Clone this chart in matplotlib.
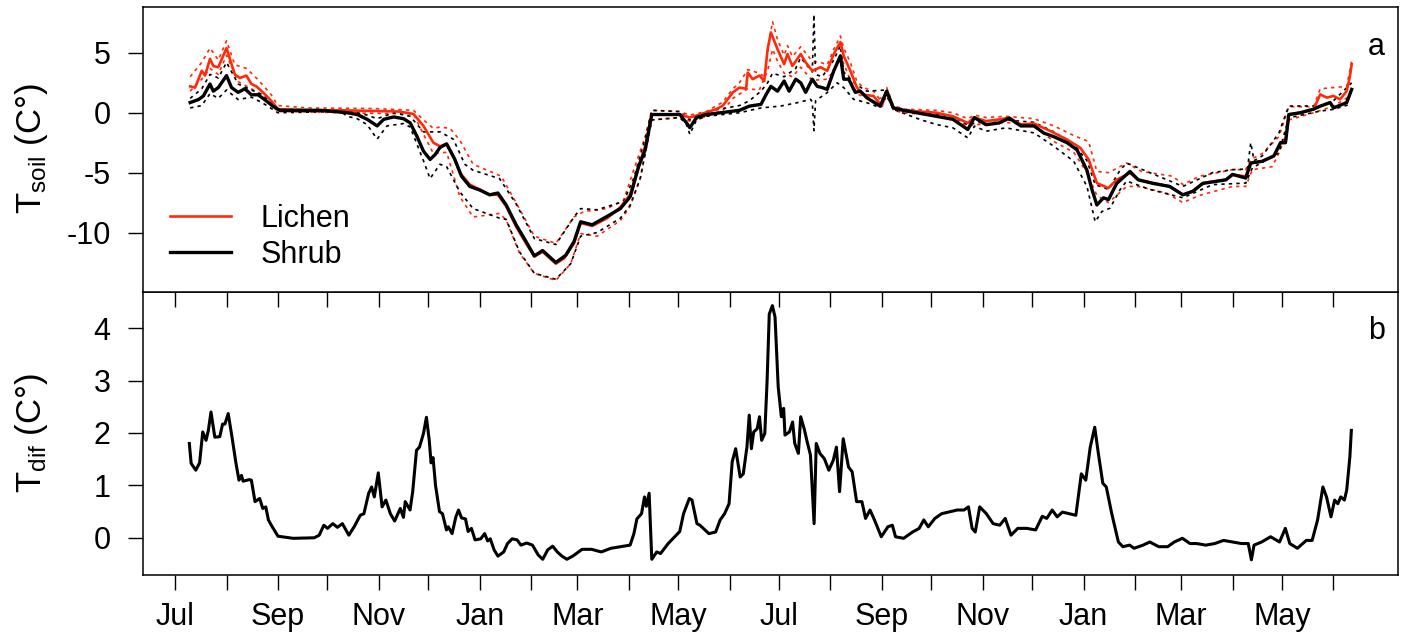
import datetime
import matplotlib
matplotlib.use('Agg')
import matplotlib.pyplot as plt

plt.rcParams['font.family'] = 'Liberation Sans'
plt.rcParams['mathtext.fontset'] = 'custom'
plt.rcParams['mathtext.rm'] = 'Liberation Sans'
plt.rcParams['axes.unicode_minus'] = False

# x values are days since 1 Jul 2013
START = datetime.date(2013, 7, 1)

lichen_day = [9, 12, 16, 18, 21, 23, 26, 31, 33, 36, 39, 43, 46, 49, 53, 58, 62, 80, 100, 120,
              135, 144, 150, 156, 160, 164, 168, 172, 178, 184, 190, 195, 200, 206, 212, 217, 222,
              230, 235, 241, 245, 252, 261, 269, 275, 279, 284, 288, 295, 305, 311, 317, 327, 331,
              337, 341, 345, 346, 349, 353, 356, 358, 360, 364, 368, 370, 373, 378, 381, 385, 390,
              394, 398, 402, 404, 408, 412, 416, 422, 427, 430, 434, 440, 460, 470, 479, 483, 490,
              498, 504, 511, 519, 529, 539, 547, 552, 557, 564, 569, 577, 582, 591, 601, 609, 615,
              621, 635, 639, 647, 650, 657, 664, 668, 671, 673, 680, 688, 692, 696, 700, 704, 708,
              710, 711]
lichen_t = [2.2, 2.1, 3.5, 3.1, 4.5, 3.9, 3.8, 5.4, 4.5, 3.2, 2.9, 3.1, 2.4, 2.2, 1.7, 1.0, 0.3,
            0.2, 0.2, 0.15, 0.1, -0.1, -1.1, -2.5, -2.8, -2.6, -3.6, -5.0, -6.0, -6.4, -6.85, -6.85,
            -7.8, -9.5, -10.9, -12.0, -11.6, -12.6, -12.15, -10.9, -9.2, -9.45, -8.8, -7.9, -6.8,
            -5.0, -2.8, -0.15, -0.15, -0.15, -0.4, -0.15, 0.3, 0.6, 1.7, 2.1, 2.0, 3.35, 2.8, 3.1,
            2.65, 5.3, 6.7, 5.3, 4.05, 4.9, 3.9, 4.9, 4.2, 3.5, 3.8, 3.5, 4.9, 5.9, 4.75, 3.5, 2.1,
            1.5, 1.4, 0.55, 1.8, 0.4, 0.2, 0.0, -0.3, -0.85, -0.4, -0.7, -0.56, -0.42, -0.98, -0.9,
            -1.54, -2.24, -2.93, -3.9, -5.87, -6.29, -5.59, -5.03, -5.59, -5.87, -6.15, -6.85,
            -6.57, -5.87, -5.59, -5.17, -5.31, -4.19, -4.05, -3.63, -2.51, -2.51, -0.14, 0.0, 0.28,
            1.53, 1.26, 1.4, 1.12, 1.81, 3.07, 4.05]

shrub_day = [9, 14, 17, 21, 23, 26, 31, 34, 38, 42, 46, 50, 54, 59, 63, 88, 104, 110, 116, 122,
             126, 132, 138, 142, 146, 150, 154, 157, 160, 164, 169, 173, 178, 184, 190, 195, 200,
             206, 212, 217, 222, 230, 236, 241, 245, 252, 261, 269, 275, 280, 284, 288, 305, 309,
             311, 315, 321, 341, 347, 354, 357, 360, 364, 368, 371, 375, 378, 381, 385, 388, 391,
             394, 398, 402, 404, 407, 411, 414, 418, 426, 430, 434, 440, 460, 470, 479, 483, 490,
             498, 504, 511, 519, 525, 531, 539, 545, 551, 554, 557, 561, 564, 569, 577, 582, 591,
             601, 609, 615, 621, 635, 639, 647, 650, 657, 664, 668, 671, 673, 680, 688, 692, 698,
             700, 708, 711]
shrub_t = [0.85, 1.1, 1.4, 2.4, 1.8, 2.1, 3.1, 2.1, 1.7, 2.0, 1.5, 1.5, 1.1, 0.55, 0.2, 0.2, 0.0,
           -0.15, -0.55, -1.1, -0.55, -0.35, -0.5, -0.85, -1.95, -3.2, -3.9, -3.5, -2.9, -2.6, -3.9,
           -5.3, -6.15, -6.45, -6.85, -6.7, -7.7, -9.35, -10.75, -11.95, -11.5, -12.5, -11.9,
           -10.75, -9.1, -9.35, -8.65, -8.0, -7.0, -4.5, -3.1, -0.15, -0.15, -0.85, -1.25, -0.4,
           -0.15, 0.2, 0.55, 0.7, 1.5, 2.2, 1.8, 2.65, 1.8, 2.8, 2.5, 1.7, 2.8, 2.2, 2.1, 1.95, 3.5,
           4.75, 2.8, 2.8, 1.7, 1.8, 1.25, 0.55, 1.8, 0.4, 0.2, -0.3, -0.55, -1.4, -0.4, -1.0,
           -0.85, -0.45, -1.1, -1.1, -1.7, -2.0, -2.5, -3.1, -4.8, -6.4, -7.7, -7.1, -7.25, -5.9,
           -4.9, -5.6, -5.9, -6.15, -6.85, -6.55, -5.9, -5.6, -5.15, -5.45, -4.2, -4.05, -3.6,
           -2.5, -2.5, -0.15, 0.0, 0.3, 0.55, 0.85, 0.4, 0.85, 1.95]

# dotted envelopes
lichen_hi_day = [9, 16, 21, 26, 31, 36, 43, 49, 53, 58, 62, 80, 120, 144, 150, 156, 160, 166, 172,
                 180, 192, 197, 206, 217, 230, 241, 247, 261, 271, 277, 284, 288, 305, 311, 321,
                 331, 337, 341, 346, 353, 356, 359, 361, 364, 368, 370, 373, 378, 385, 390, 394,
                 398, 402, 404, 408, 412, 416, 422, 427, 430, 434, 440, 460, 470, 479, 483, 490,
                 502, 519, 531, 543, 552, 557, 564, 575, 584, 603, 609, 619, 639, 647, 650, 657,
                 667, 673, 688, 692, 708, 711]
lichen_hi = [3.0, 4.2, 5.4, 4.4, 6.0, 4.0, 3.7, 2.9, 2.3, 1.5, 0.6, 0.4, 0.35, 0.2, -0.6, -1.3,
             -1.2, -1.3, -2.3, -4.3, -5.0, -5.3, -7.5, -10.3, -10.9, -8.7, -8.25, -8.0, -7.3, -4.8,
             -2.0, 0.2, 0.1, -0.2, 0.1, 0.9, 2.0, 2.5, 3.6, 3.3, 3.0, 6.0, 7.6, 6.1, 4.8, 5.6, 4.7,
             5.5, 4.3, 4.2, 4.0, 5.3, 6.4, 5.4, 4.2, 2.6, 2.1, 1.8, 0.9, 2.1, 0.6, 0.3, 0.2, 0.0,
             -0.5, -0.2, -0.4, -0.3, -0.5, -1.1, -1.9, -2.4, -4.9, -5.0, -4.2, -4.9, -5.3, -6.0,
             -5.3, -4.75, -4.75, -3.9, -3.4, -2.0, 0.5, 0.5, 2.0, 2.2, 4.3]

lichen_lo_day = [9, 16, 21, 26, 31, 38, 46, 53, 62, 144, 150, 156, 164, 172, 180, 196, 200, 208,
                 217, 230, 239, 245, 255, 269, 275, 281, 288, 305, 311, 321, 331, 337, 346, 353,
                 358, 361, 364, 368, 373, 378, 385, 394, 398, 402, 408, 412, 422, 430, 434, 440,
                 460, 470, 479, 490, 502, 519, 531, 543, 551, 557, 564, 575, 582, 599, 609, 619,
                 639, 647, 651, 663, 668, 673, 688, 700, 710]
lichen_lo = [1.8, 2.8, 3.7, 3.2, 4.8, 2.6, 2.0, 1.4, 0.1, -0.1, -1.8, -3.4, -3.3, -7.0, -8.7,
             -8.4, -8.95, -11.7, -13.4, -14.0, -12.6, -10.1, -10.3, -9.0, -7.8, -5.5, -0.6, -0.4,
             -0.7, -0.3, 0.2, 1.2, 2.0, 1.9, 3.5, 5.3, 4.3, 3.3, 3.0, 3.8, 2.7, 2.8, 3.5, 4.8, 2.7,
             1.6, 0.9, 1.5, 0.2, 0.0, -0.2, -0.5, -1.1, -0.9, -0.8, -1.1, -2.4, -3.3, -5.0, -6.9,
             -7.5, -6.15, -6.15, -6.7, -7.5, -6.9, -6.15, -6.15, -4.75, -4.5, -3.1, -0.6, 0.0,
             0.55, 1.4]

shrub_hi_day = [9, 16, 21, 26, 31, 38, 46, 53, 62, 104, 110, 116, 122, 132, 142, 150, 160, 168,
                175, 180, 196, 206, 217, 230, 241, 245, 255, 271, 277, 284, 288, 305, 311, 321,
                341, 347, 354, 358, 361, 368, 375, 378, 385, 386, 387, 391, 398, 402, 404, 411,
                418, 430, 434, 440, 460, 470, 479, 490, 502, 519, 531, 543, 551, 556, 560, 564,
                571, 575, 589, 609, 627, 639, 648, 650, 652, 657, 667, 673, 692, 700, 711]
shrub_hi = [1.2, 2.0, 3.2, 2.9, 4.2, 2.4, 1.9, 1.5, 0.3, 0.2, 0.0, -0.2, -0.5, 0.0, -0.3, -1.6,
            -1.6, -2.2, -4.3, -4.8, -5.5, -7.6, -10.5, -11.0, -8.7, -8.0, -8.1, -7.4, -5.5, -2.2,
            0.2, 0.1, -0.6, 0.1, 0.6, 1.0, 1.8, 2.5, 3.3, 3.0, 3.7, 4.6, 3.4, 8.2, 3.2, 3.0, 4.4,
            5.6, 3.4, 2.4, 1.8, 1.9, 0.5, 0.3, -0.1, -0.3, -1.0, -0.7, -0.6, -0.8, -1.6, -2.6,
            -4.0, -6.0, -6.2, -6.4, -4.8, -4.2, -5.0, -6.15, -5.0, -4.75, -4.7, -2.5, -4.0, -3.6,
            -1.7, 0.56, 0.56, 1.0, 2.5]

shrub_lo_day = [9, 16, 21, 26, 31, 38, 46, 53, 62, 100, 104, 110, 116, 122, 128, 138, 142, 150,
                154, 160, 164, 172, 180, 196, 200, 208, 217, 230, 239, 245, 255, 269, 275, 281,
                288, 305, 309, 311, 315, 321, 341, 354, 366, 376, 384, 385, 386, 387, 394, 400,
                404, 410, 418, 426, 430, 434, 450, 460, 470, 479, 483, 490, 502, 519, 531, 543,
                551, 556, 560, 565, 571, 575, 589, 609, 627, 647, 651, 667, 673, 692, 700, 710]
shrub_lo = [0.4, 0.6, 1.6, 1.2, 1.9, 1.1, 1.3, 0.8, 0.0, 0.1, -0.3, -0.5, -1.0, -2.2, -1.1, -0.9,
            -1.2, -4.0, -5.5, -4.3, -4.5, -6.6, -8.0, -8.8, -8.9, -11.6, -13.4, -13.9, -12.6,
            -10.3, -10.0, -8.8, -7.7, -5.5, -0.6, -0.4, -1.0, -1.8, -0.6, -0.3, 0.0, 0.4, 0.56,
            0.84, 1.12, 0.9, -1.5, 1.0, 1.68, 2.5, 2.1, 1.12, 0.84, 0.42, 1.4, 0.28, -0.56, -0.98,
            -1.26, -2.1, -1.12, -1.54, -1.26, -1.68, -2.8, -4.05, -6.15, -9.1, -8.25, -7.96,
            -6.43, -5.7, -6.4, -7.1, -6.0, -5.87, -4.6, -3.35, -0.42, 0.14, 0.28, 0.7]

# lichen minus shrub
dif_day = [8.5, 9.6, 12.4, 14.7, 16.6, 18.6, 20, 21.6, 23.9, 26.9, 28.6, 30, 32, 34.3, 36.7,
           38.5, 40, 41, 44.7, 46, 48.2, 51, 52.9, 54.7, 56.3, 58.6, 62.1, 71.3, 84, 87, 89.8, 92,
           95.2, 98, 101, 104.9, 108.3, 111.8, 114, 116.9, 118.7, 120.3, 122.7, 125, 127.3, 130,
           132.6, 136, 137.9, 139, 141.9, 143.5, 145.8, 147.6, 150, 151.8, 153.5, 154.6, 155.8,
           157.3, 159.7, 161.5, 163.9, 165, 167.3, 169.6, 171.2, 173, 175.4, 177, 179, 181.2,
           184.6, 187, 188.8, 190.4, 192.7, 195, 198.5, 200.8, 203.6, 206.6, 208.9, 212.4, 215.9,
           219.4, 222.1, 225.1, 228.1, 230.9, 233.7, 236.7, 240.2, 245.9, 251.6, 257.5, 263.3,
           269, 274.9, 277.2, 279, 281.8, 283.6, 284.7, 286.4, 288, 291, 293.3, 297.9, 304.9,
           307.2, 310.7, 312.3, 315.3, 317.1, 322.5, 326.6, 329.3, 332, 334.7, 336.6, 338.7,
           341.4, 343.3, 345.5, 346.9, 348.2, 349.6, 351.7, 353.1, 354.4, 356.3, 357.7, 359,
           360.9, 362.5, 364.4, 366.3, 367.7, 368.5, 371.2, 373.1, 374.4, 376.6, 378, 380.1, 382,
           383.9, 386.1, 387.4, 389.6, 392.3, 395, 397.7, 399.6, 401.5, 403.7, 406.9, 409.1,
           411.8, 415, 417.2, 419.9, 422.6, 426.7, 430.7, 433.4, 435.3, 440.2, 445.6, 449.6,
           452.4, 455.1, 459.1, 463.2, 467.2, 472.6, 476.7, 479.4, 481.6, 483.5, 486.2, 490.2,
           494.3, 498.3, 501.6, 505.1, 509.2, 514.6, 520, 524, 526.7, 530, 533, 536.2, 540.3,
           544.3, 547.6, 550.3, 553, 555.7, 557.9, 560.6, 562.7, 566, 570, 572.7, 576.8, 579.5,
           584.9, 589, 594.4, 599.8, 603.8, 608.7, 613.3, 617.4, 622.8, 628.2, 633.6, 639, 644.4,
           648.5, 650.4, 652, 656.6, 662, 667.4, 670.9, 673.6, 678.2, 683.6, 687.1, 690.4, 693.6,
           695.8, 698.5, 700.7, 702.6, 704.4, 706.6, 708, 709.9, 710.8]
dif_t = [1.80, 1.42, 1.29, 1.43, 2.02, 1.86, 2.05, 2.40, 1.92, 1.93, 2.17, 2.17, 2.37, 1.92, 1.42,
         1.10, 1.19, 1.08, 1.11, 1.10, 0.69, 0.75, 0.56, 0.59, 0.34, 0.21, 0.03, -0.01, 0.0, 0.05,
         0.24, 0.18, 0.27, 0.20, 0.27, 0.05, 0.22, 0.43, 0.46, 0.85, 0.97, 0.78, 1.24, 0.59, 0.72,
         0.46, 0.32, 0.56, 0.39, 0.69, 0.53, 0.88, 1.67, 1.73, 1.99, 2.30, 1.86, 1.43, 1.53, 1.0,
         0.5, 0.46, 0.15, 0.21, 0.08, 0.4, 0.53, 0.38, 0.36, 0.12, 0.18, -0.04, -0.02, 0.08,
         -0.06, -0.02, -0.23, -0.35, -0.27, -0.11, -0.02, -0.04, -0.14, -0.1, -0.14, -0.33,
         -0.41, -0.23, -0.16, -0.27, -0.35, -0.41, -0.35, -0.22, -0.22, -0.27, -0.2, -0.17,
         -0.14, 0.08, 0.36, 0.46, 0.78, 0.6, 0.85, -0.41, -0.27, -0.3, -0.11, 0.12, 0.46, 0.75,
         0.72, 0.27, 0.24, 0.08, 0.11, 0.34, 0.46, 0.65, 1.45, 1.70, 1.16, 1.22, 1.73, 2.34,
         1.70, 2.02, 2.08, 2.31, 1.86, 1.99, 3.0, 4.27, 4.43, 4.21, 2.88, 2.31, 2.47, 1.96, 2.02,
         2.21, 1.80, 1.61, 2.31, 2.08, 1.82, 1.58, 0.27, 1.80, 1.61, 1.51, 1.29, 1.48, 1.73,
         0.88, 1.89, 1.35, 1.26, 0.69, 0.69, 0.37, 0.53, 0.34, 0.02, 0.21, 0.24, 0.02, -0.01,
         0.11, 0.18, 0.34, 0.21, 0.37, 0.46, 0.49, 0.53, 0.53, 0.59, 0.18, 0.11, 0.59, 0.46,
         0.27, 0.24, 0.37, 0.05, 0.18, 0.18, 0.15, 0.41, 0.37, 0.53, 0.40, 0.49, 0.46, 0.43,
         1.22, 1.10, 1.73, 2.11, 1.61, 1.04, 0.97, 0.46, -0.08, -0.17, -0.14, -0.2, -0.14,
         -0.08, -0.17, -0.17, -0.08, -0.01, -0.11, -0.11, -0.14, -0.11, -0.05, -0.08, -0.11,
         -0.11, -0.42, -0.14, -0.08, 0.02, -0.08, 0.18, -0.11, -0.2, -0.05, -0.05, 0.34, 0.97,
         0.78, 0.40, 0.72, 0.65, 0.78, 0.72, 0.91, 1.54, 2.05]

RED = '#ff2a0a'
W, H = 1401, 634
FS = 22

# month ticks, labels every second month
month_pos = []
month_lab = []
for k in range(24):
    m = (7 + k - 1) % 12 + 1
    y = 2013 + (7 + k - 1) // 12
    d = datetime.date(y, m, 1)
    month_pos.append((d - START).days)
    month_lab.append(d.strftime('%b') if k % 2 == 0 else '')

fig = plt.figure(figsize=(W / 100, H / 100), dpi=100)
left, right = 143 / W, 1398 / W
ax1 = fig.add_axes([left, 1 - 291.5 / H, right - left, (291.5 - 6.7) / H])
ax2 = fig.add_axes([left, 1 - 575 / H, right - left, (575 - 291.5) / H])
ax1.set_zorder(3)

dot = dict(lw=1.2, linestyle=(0, (2, 2.5)))
ax1.plot(lichen_hi_day, lichen_hi, color=RED, **dot)
ax1.plot(lichen_lo_day, lichen_lo, color=RED, **dot)
ax1.plot(shrub_hi_day, shrub_hi, color='black', **dot)
ax1.plot(shrub_lo_day, shrub_lo, color='black', **dot)
l1, = ax1.plot(lichen_day, lichen_t, color=RED, lw=1.9, label='Lichen')
l2, = ax1.plot(shrub_day, shrub_t, color='black', lw=2.4, label='Shrub')

ax2.plot(dif_day, dif_t, color='black', lw=2.2)

for ax in (ax1, ax2):
    ax.set_xlim(-19.5, 739)
    ax.set_xticks(month_pos)
    ax.tick_params(direction='out', length=10.8, width=1.0, pad=12.5, labelsize=FS,
                   top=False, right=False)
    ax.tick_params(axis='x', pad=8.5)
    for sp in ax.spines.values():
        sp.set_linewidth(1.1)

ax1.set_ylim(-14.92, 8.85)
ax1.set_yticks([-10, -5, 0, 5])
ax1.set_xticklabels([])
ax2.set_ylim(-0.71, 4.70)
ax2.set_yticks([0, 1, 2, 3, 4])
ax2.set_xticklabels(month_lab)

ax1.text(0.9825, 0.857, 'a', transform=ax1.transAxes, ha='center', va='center', fontsize=FS)
ax2.text(0.9825, 0.861, 'b', transform=ax2.transAxes, ha='center', va='center', fontsize=FS)

ax1.legend(handles=[l1, l2], loc='upper left', bbox_to_anchor=(170 / W, 1 - 204 / H),
           bbox_transform=fig.transFigure, frameon=False, fontsize=FS, handlelength=2.0,
           handletextpad=0.95, labelspacing=0.2, borderpad=0, borderaxespad=0)

fig.text(31 / W, 1 - 149 / H, r'$\mathregular{T_{soil}}$ (C°)', rotation=90,
         ha='center', va='center', fontsize=25)
fig.text(31 / W, 1 - 433 / H, r'$\mathregular{T_{dif}}$ (C°)', rotation=90,
         ha='center', va='center', fontsize=25)

fig.savefig('out.png', dpi=100)
